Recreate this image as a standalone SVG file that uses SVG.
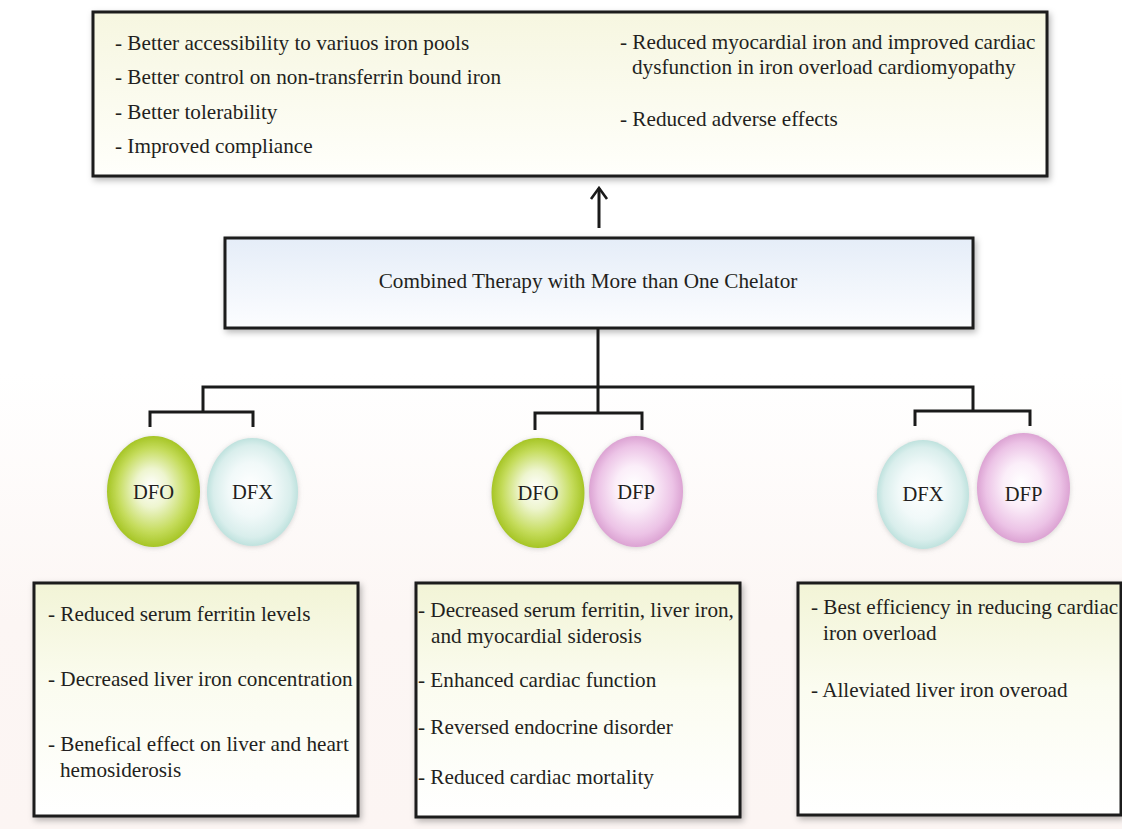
<svg xmlns="http://www.w3.org/2000/svg" width="1122" height="829" viewBox="0 0 1122 829">
<defs>
<linearGradient id="bg" x1="0" y1="0" x2="0" y2="829" gradientUnits="userSpaceOnUse">
<stop offset="0.45" stop-color="#ffffff"/>
<stop offset="0.75" stop-color="#fcf6f4"/>
<stop offset="1" stop-color="#fcf5f3"/>
</linearGradient>
<linearGradient id="gTop" x1="0" y1="0" x2="0" y2="1">
<stop offset="0" stop-color="#f6f6e0"/>
<stop offset="1" stop-color="#fffffb"/>
</linearGradient>
<linearGradient id="gMid" x1="0" y1="0" x2="0" y2="1">
<stop offset="0" stop-color="#e5edf8"/>
<stop offset="1" stop-color="#fcfdff"/>
</linearGradient>
<linearGradient id="gBot" x1="0" y1="0" x2="0" y2="1">
<stop offset="0" stop-color="#f2f4d6"/>
<stop offset="0.45" stop-color="#fbfcf0"/>
<stop offset="1" stop-color="#ffffff"/>
</linearGradient>
<radialGradient id="gGreen" cx="0.5" cy="0.5" r="0.5" fx="0.47" fy="0.45">
<stop offset="0" stop-color="#ffffff"/>
<stop offset="0.35" stop-color="#eef5cf"/>
<stop offset="0.75" stop-color="#c5dc5c"/>
<stop offset="1" stop-color="#a6c525"/>
</radialGradient>
<radialGradient id="gCyan" cx="0.5" cy="0.5" r="0.5" fx="0.47" fy="0.45">
<stop offset="0" stop-color="#ffffff"/>
<stop offset="0.5" stop-color="#f1f9f9"/>
<stop offset="0.85" stop-color="#d9eeec"/>
<stop offset="1" stop-color="#bfe2de"/>
</radialGradient>
<radialGradient id="gPink" cx="0.5" cy="0.5" r="0.5" fx="0.47" fy="0.45">
<stop offset="0" stop-color="#ffffff"/>
<stop offset="0.4" stop-color="#fbeef9"/>
<stop offset="0.8" stop-color="#ecc3e6"/>
<stop offset="1" stop-color="#dca3d3"/>
</radialGradient>
<filter id="sh" x="-5%" y="-10%" width="112%" height="125%">
<feDropShadow dx="2" dy="3" stdDeviation="3" flood-color="#000" flood-opacity="0.28"/>
</filter>
<filter id="glow" x="-20%" y="-20%" width="140%" height="140%">
<feDropShadow dx="0" dy="1" stdDeviation="2.5" flood-color="#888" flood-opacity="0.35"/>
</filter>
<marker id="arr" markerWidth="14" markerHeight="20" viewBox="0 0 14 20" refX="12" refY="10" orient="auto" markerUnits="userSpaceOnUse">
<path d="M1,2 L12,10 L1,18" fill="none" stroke="#1a1a1a" stroke-width="2.6" stroke-linejoin="miter"/>
</marker>
</defs>
<style>
.box{stroke:#1c1c1c;stroke-width:3}
.t{font-family:"Liberation Serif","Times New Roman",serif;font-size:21.2px;fill:#231f20}
.lbl{font-family:"Liberation Serif","Times New Roman",serif;font-size:20.5px;fill:#231f20;text-anchor:middle}
.c{fill:none;stroke:#1a1a1a;stroke-width:3;stroke-linejoin:miter}
</style>
<rect x="0" y="0" width="1122" height="829" fill="url(#bg)"/>

<g id="benefits">
<rect class="box" x="93" y="12" width="954" height="164" fill="url(#gTop)" filter="url(#sh)"/>
<text class="t" x="115" y="50">- Better accessibility to variuos iron pools</text>
<text class="t" x="115" y="84">- Better control on non-transferrin bound iron</text>
<text class="t" x="115" y="119">- Better tolerability</text>
<text class="t" x="115" y="153">- Improved compliance</text>
<text class="t" x="620" y="49">- Reduced myocardial iron and improved cardiac</text>
<text class="t" x="632" y="74">dysfunction in iron overload cardiomyopathy</text>
<text class="t" x="620" y="126">- Reduced adverse effects</text>
</g>

<g id="combined">
<rect class="box" x="225" y="238" width="748" height="90" fill="url(#gMid)" filter="url(#sh)"/>
<text class="t" x="588" y="288" text-anchor="middle">Combined Therapy with More than One Chelator</text>
</g>

<g id="connectors">
<line class="c" x1="599" y1="228" x2="599" y2="188" marker-end="url(#arr)"/>
<polyline class="c" points="598,328 598,413"/>
<polyline class="c" points="203,411 203,387 973,387 973,411"/>
<polyline class="c" points="150,427 150,412 253,412 253,427"/>
<polyline class="c" points="535,430 535,413 642,413 642,430"/>
<polyline class="c" points="915,426 915,411 1030,411 1030,426"/>
</g>

<g id="pair-dfo-dfx">
<ellipse cx="153.5" cy="491.5" rx="46.5" ry="55.5" fill="url(#gGreen)" filter="url(#glow)"/>
<text class="lbl" x="153.5" y="499">DFO</text>
<ellipse cx="252.5" cy="492" rx="45.5" ry="54" fill="url(#gCyan)" filter="url(#glow)"/>
<text class="lbl" x="252.5" y="499">DFX</text>
</g>

<g id="pair-dfo-dfp">
<ellipse cx="538" cy="493" rx="46.5" ry="55" fill="url(#gGreen)" filter="url(#glow)"/>
<text class="lbl" x="538" y="500">DFO</text>
<ellipse cx="636" cy="491.5" rx="47" ry="55.5" fill="url(#gPink)" filter="url(#glow)"/>
<text class="lbl" x="636" y="499">DFP</text>
</g>

<g id="pair-dfx-dfp">
<ellipse cx="923" cy="494.5" rx="46" ry="54.5" fill="url(#gCyan)" filter="url(#glow)"/>
<text class="lbl" x="923" y="501">DFX</text>
<ellipse cx="1023.5" cy="488" rx="46.5" ry="55" fill="url(#gPink)" filter="url(#glow)"/>
<text class="lbl" x="1023.5" y="501">DFP</text>
</g>

<g id="effects-dfo-dfx">
<rect class="box" x="34" y="583" width="324" height="233" fill="url(#gBot)" filter="url(#sh)"/>
<text class="t" x="48" y="621">- Reduced serum ferritin levels</text>
<text class="t" x="48" y="686">- Decreased liver iron concentration</text>
<text class="t" x="48" y="751">- Benefical effect on liver and heart</text>
<text class="t" x="60" y="777">hemosiderosis</text>
</g>

<g id="effects-dfo-dfp">
<rect class="box" x="416" y="583" width="324" height="234" fill="url(#gBot)" filter="url(#sh)"/>
<text class="t" x="418" y="617">- Decreased serum ferritin, liver iron,</text>
<text class="t" x="431" y="643">and myocardial siderosis</text>
<text class="t" x="418" y="687">- Enhanced cardiac function</text>
<text class="t" x="418" y="734">- Reversed endocrine disorder</text>
<text class="t" x="418" y="784">- Reduced cardiac mortality</text>
</g>

<g id="effects-dfx-dfp">
<rect class="box" x="798" y="583" width="323" height="232" fill="url(#gBot)" filter="url(#sh)"/>
<text class="t" x="811" y="614">- Best efficiency in reducing cardiac</text>
<text class="t" x="823" y="640">iron overload</text>
<text class="t" x="811" y="697">- Alleviated liver iron overoad</text>
</g>
</svg>
